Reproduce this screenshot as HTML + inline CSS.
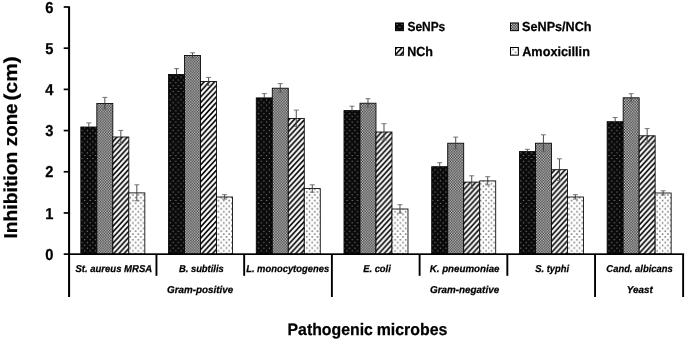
<!DOCTYPE html>
<html><head><meta charset="utf-8"><title>Chart</title>
<style>
html,body{margin:0;padding:0;background:#fff;}
body{width:685px;height:340px;overflow:hidden;font-family:"Liberation Sans",sans-serif;}
svg{display:block;font-family:"Liberation Sans",sans-serif;}
text{fill:#000;stroke:#000;stroke-width:0.25px;text-rendering:geometricPrecision;}
</style></head><body>
<svg width="685" height="340" viewBox="0 0 685 340" style="will-change:transform;transform:translateZ(0);filter:blur(0.35px)">
<defs>
<pattern id="p1" patternUnits="userSpaceOnUse" width="21.400" height="22.400" x="0.5" y="0.3">
<rect width="21.400" height="22.400" fill="#0a0a0a"/>
<path d="M0.84,0.90h1.0v1.0h-1.0zM3.51,3.70h1.0v1.0h-1.0zM0.84,6.50h1.0v1.0h-1.0zM3.51,9.30h1.0v1.0h-1.0zM0.84,12.10h1.0v1.0h-1.0zM3.51,14.90h1.0v1.0h-1.0zM0.84,17.70h1.0v1.0h-1.0zM3.51,20.50h1.0v1.0h-1.0zM6.19,0.90h1.0v1.0h-1.0zM8.86,3.70h1.0v1.0h-1.0zM6.19,6.50h1.0v1.0h-1.0zM8.86,9.30h1.0v1.0h-1.0zM6.19,12.10h1.0v1.0h-1.0zM8.86,14.90h1.0v1.0h-1.0zM6.19,17.70h1.0v1.0h-1.0zM8.86,20.50h1.0v1.0h-1.0zM11.54,0.90h1.0v1.0h-1.0zM14.21,3.70h1.0v1.0h-1.0zM11.54,6.50h1.0v1.0h-1.0zM14.21,9.30h1.0v1.0h-1.0zM11.54,12.10h1.0v1.0h-1.0zM14.21,14.90h1.0v1.0h-1.0zM11.54,17.70h1.0v1.0h-1.0zM14.21,20.50h1.0v1.0h-1.0zM16.89,0.90h1.0v1.0h-1.0zM19.56,3.70h1.0v1.0h-1.0zM16.89,6.50h1.0v1.0h-1.0zM19.56,9.30h1.0v1.0h-1.0zM16.89,12.10h1.0v1.0h-1.0zM19.56,14.90h1.0v1.0h-1.0zM16.89,17.70h1.0v1.0h-1.0zM19.56,20.50h1.0v1.0h-1.0z" fill="#a0a0a0"/>
</pattern>
<pattern id="p2" patternUnits="userSpaceOnUse" width="21.280" height="22.160">
<rect width="21.280" height="22.160" fill="#fff"/>
<path d="M0.00,0.00h1.330v1.385h-1.330zM1.33,1.385h1.330v1.385h-1.330zM0.00,2.77h1.330v1.385h-1.330zM1.33,4.155h1.330v1.385h-1.330zM0.00,5.54h1.330v1.385h-1.330zM1.33,6.925h1.330v1.385h-1.330zM0.00,8.31h1.330v1.385h-1.330zM1.33,9.695h1.330v1.385h-1.330zM0.00,11.08h1.330v1.385h-1.330zM1.33,12.465h1.330v1.385h-1.330zM0.00,13.85h1.330v1.385h-1.330zM1.33,15.235h1.330v1.385h-1.330zM0.00,16.62h1.330v1.385h-1.330zM1.33,18.005h1.330v1.385h-1.330zM0.00,19.39h1.330v1.385h-1.330zM1.33,20.775h1.330v1.385h-1.330zM2.66,0.00h1.330v1.385h-1.330zM3.99,1.385h1.330v1.385h-1.330zM2.66,2.77h1.330v1.385h-1.330zM3.99,4.155h1.330v1.385h-1.330zM2.66,5.54h1.330v1.385h-1.330zM3.99,6.925h1.330v1.385h-1.330zM2.66,8.31h1.330v1.385h-1.330zM3.99,9.695h1.330v1.385h-1.330zM2.66,11.08h1.330v1.385h-1.330zM3.99,12.465h1.330v1.385h-1.330zM2.66,13.85h1.330v1.385h-1.330zM3.99,15.235h1.330v1.385h-1.330zM2.66,16.62h1.330v1.385h-1.330zM3.99,18.005h1.330v1.385h-1.330zM2.66,19.39h1.330v1.385h-1.330zM3.99,20.775h1.330v1.385h-1.330zM5.32,0.00h1.330v1.385h-1.330zM6.65,1.385h1.330v1.385h-1.330zM5.32,2.77h1.330v1.385h-1.330zM6.65,4.155h1.330v1.385h-1.330zM5.32,5.54h1.330v1.385h-1.330zM6.65,6.925h1.330v1.385h-1.330zM5.32,8.31h1.330v1.385h-1.330zM6.65,9.695h1.330v1.385h-1.330zM5.32,11.08h1.330v1.385h-1.330zM6.65,12.465h1.330v1.385h-1.330zM5.32,13.85h1.330v1.385h-1.330zM6.65,15.235h1.330v1.385h-1.330zM5.32,16.62h1.330v1.385h-1.330zM6.65,18.005h1.330v1.385h-1.330zM5.32,19.39h1.330v1.385h-1.330zM6.65,20.775h1.330v1.385h-1.330zM7.98,0.00h1.330v1.385h-1.330zM9.31,1.385h1.330v1.385h-1.330zM7.98,2.77h1.330v1.385h-1.330zM9.31,4.155h1.330v1.385h-1.330zM7.98,5.54h1.330v1.385h-1.330zM9.31,6.925h1.330v1.385h-1.330zM7.98,8.31h1.330v1.385h-1.330zM9.31,9.695h1.330v1.385h-1.330zM7.98,11.08h1.330v1.385h-1.330zM9.31,12.465h1.330v1.385h-1.330zM7.98,13.85h1.330v1.385h-1.330zM9.31,15.235h1.330v1.385h-1.330zM7.98,16.62h1.330v1.385h-1.330zM9.31,18.005h1.330v1.385h-1.330zM7.98,19.39h1.330v1.385h-1.330zM9.31,20.775h1.330v1.385h-1.330zM10.64,0.00h1.330v1.385h-1.330zM11.97,1.385h1.330v1.385h-1.330zM10.64,2.77h1.330v1.385h-1.330zM11.97,4.155h1.330v1.385h-1.330zM10.64,5.54h1.330v1.385h-1.330zM11.97,6.925h1.330v1.385h-1.330zM10.64,8.31h1.330v1.385h-1.330zM11.97,9.695h1.330v1.385h-1.330zM10.64,11.08h1.330v1.385h-1.330zM11.97,12.465h1.330v1.385h-1.330zM10.64,13.85h1.330v1.385h-1.330zM11.97,15.235h1.330v1.385h-1.330zM10.64,16.62h1.330v1.385h-1.330zM11.97,18.005h1.330v1.385h-1.330zM10.64,19.39h1.330v1.385h-1.330zM11.97,20.775h1.330v1.385h-1.330zM13.30,0.00h1.330v1.385h-1.330zM14.63,1.385h1.330v1.385h-1.330zM13.30,2.77h1.330v1.385h-1.330zM14.63,4.155h1.330v1.385h-1.330zM13.30,5.54h1.330v1.385h-1.330zM14.63,6.925h1.330v1.385h-1.330zM13.30,8.31h1.330v1.385h-1.330zM14.63,9.695h1.330v1.385h-1.330zM13.30,11.08h1.330v1.385h-1.330zM14.63,12.465h1.330v1.385h-1.330zM13.30,13.85h1.330v1.385h-1.330zM14.63,15.235h1.330v1.385h-1.330zM13.30,16.62h1.330v1.385h-1.330zM14.63,18.005h1.330v1.385h-1.330zM13.30,19.39h1.330v1.385h-1.330zM14.63,20.775h1.330v1.385h-1.330zM15.96,0.00h1.330v1.385h-1.330zM17.29,1.385h1.330v1.385h-1.330zM15.96,2.77h1.330v1.385h-1.330zM17.29,4.155h1.330v1.385h-1.330zM15.96,5.54h1.330v1.385h-1.330zM17.29,6.925h1.330v1.385h-1.330zM15.96,8.31h1.330v1.385h-1.330zM17.29,9.695h1.330v1.385h-1.330zM15.96,11.08h1.330v1.385h-1.330zM17.29,12.465h1.330v1.385h-1.330zM15.96,13.85h1.330v1.385h-1.330zM17.29,15.235h1.330v1.385h-1.330zM15.96,16.62h1.330v1.385h-1.330zM17.29,18.005h1.330v1.385h-1.330zM15.96,19.39h1.330v1.385h-1.330zM17.29,20.775h1.330v1.385h-1.330zM18.62,0.00h1.330v1.385h-1.330zM19.95,1.385h1.330v1.385h-1.330zM18.62,2.77h1.330v1.385h-1.330zM19.95,4.155h1.330v1.385h-1.330zM18.62,5.54h1.330v1.385h-1.330zM19.95,6.925h1.330v1.385h-1.330zM18.62,8.31h1.330v1.385h-1.330zM19.95,9.695h1.330v1.385h-1.330zM18.62,11.08h1.330v1.385h-1.330zM19.95,12.465h1.330v1.385h-1.330zM18.62,13.85h1.330v1.385h-1.330zM19.95,15.235h1.330v1.385h-1.330zM18.62,16.62h1.330v1.385h-1.330zM19.95,18.005h1.330v1.385h-1.330zM18.62,19.39h1.330v1.385h-1.330zM19.95,20.775h1.330v1.385h-1.330z" fill="#000"/>
</pattern>
<pattern id="p3" patternUnits="userSpaceOnUse" width="20.800" height="22.600">
<rect width="20.800" height="22.600" fill="#fff"/>
<path d="M-5.20,4.24L26.00,-29.66M-5.20,9.89L26.00,-24.01M-5.20,15.54L26.00,-18.36M-5.20,21.19L26.00,-12.71M-5.20,26.84L26.00,-7.06M-5.20,32.49L26.00,-1.41M-5.20,38.14L26.00,4.24M-5.20,43.79L26.00,9.89M-5.20,49.44L26.00,15.54M-5.20,55.09L26.00,21.19" stroke="#000" stroke-width="1.62" fill="none"/>
</pattern>
<pattern id="p4" patternUnits="userSpaceOnUse" width="21.400" height="22.400" x="0.5" y="0.3">
<rect width="21.400" height="22.400" fill="#fff"/>
<path d="M0.64,0.55h1.4v1.7h-1.4zM3.31,3.35h1.4v1.7h-1.4zM0.64,6.15h1.4v1.7h-1.4zM3.31,8.95h1.4v1.7h-1.4zM0.64,11.75h1.4v1.7h-1.4zM3.31,14.55h1.4v1.7h-1.4zM0.64,17.35h1.4v1.7h-1.4zM3.31,20.15h1.4v1.7h-1.4zM5.99,0.55h1.4v1.7h-1.4zM8.66,3.35h1.4v1.7h-1.4zM5.99,6.15h1.4v1.7h-1.4zM8.66,8.95h1.4v1.7h-1.4zM5.99,11.75h1.4v1.7h-1.4zM8.66,14.55h1.4v1.7h-1.4zM5.99,17.35h1.4v1.7h-1.4zM8.66,20.15h1.4v1.7h-1.4zM11.34,0.55h1.4v1.7h-1.4zM14.01,3.35h1.4v1.7h-1.4zM11.34,6.15h1.4v1.7h-1.4zM14.01,8.95h1.4v1.7h-1.4zM11.34,11.75h1.4v1.7h-1.4zM14.01,14.55h1.4v1.7h-1.4zM11.34,17.35h1.4v1.7h-1.4zM14.01,20.15h1.4v1.7h-1.4zM16.69,0.55h1.4v1.7h-1.4zM19.36,3.35h1.4v1.7h-1.4zM16.69,6.15h1.4v1.7h-1.4zM19.36,8.95h1.4v1.7h-1.4zM16.69,11.75h1.4v1.7h-1.4zM19.36,14.55h1.4v1.7h-1.4zM16.69,17.35h1.4v1.7h-1.4zM19.36,20.15h1.4v1.7h-1.4z" fill="#747474"/>
</pattern>
<pattern id="p5" patternUnits="userSpaceOnUse" width="21.400" height="22.400" x="511.66" y="48.1">
<rect width="21.400" height="22.400" fill="#fff"/>
<path d="M0.64,0.55h1.4v1.7h-1.4zM3.31,3.35h1.4v1.7h-1.4zM0.64,6.15h1.4v1.7h-1.4zM3.31,8.95h1.4v1.7h-1.4zM0.64,11.75h1.4v1.7h-1.4zM3.31,14.55h1.4v1.7h-1.4zM0.64,17.35h1.4v1.7h-1.4zM3.31,20.15h1.4v1.7h-1.4zM5.99,0.55h1.4v1.7h-1.4zM8.66,3.35h1.4v1.7h-1.4zM5.99,6.15h1.4v1.7h-1.4zM8.66,8.95h1.4v1.7h-1.4zM5.99,11.75h1.4v1.7h-1.4zM8.66,14.55h1.4v1.7h-1.4zM5.99,17.35h1.4v1.7h-1.4zM8.66,20.15h1.4v1.7h-1.4zM11.34,0.55h1.4v1.7h-1.4zM14.01,3.35h1.4v1.7h-1.4zM11.34,6.15h1.4v1.7h-1.4zM14.01,8.95h1.4v1.7h-1.4zM11.34,11.75h1.4v1.7h-1.4zM14.01,14.55h1.4v1.7h-1.4zM11.34,17.35h1.4v1.7h-1.4zM14.01,20.15h1.4v1.7h-1.4zM16.69,0.55h1.4v1.7h-1.4zM19.36,3.35h1.4v1.7h-1.4zM16.69,6.15h1.4v1.7h-1.4zM19.36,8.95h1.4v1.7h-1.4zM16.69,11.75h1.4v1.7h-1.4zM19.36,14.55h1.4v1.7h-1.4zM16.69,17.35h1.4v1.7h-1.4zM19.36,20.15h1.4v1.7h-1.4z" fill="#747474"/>
</pattern>
<pattern id="p6" patternUnits="userSpaceOnUse" width="21.400" height="22.400" x="395.66" y="23.1">
<rect width="21.400" height="22.400" fill="#0a0a0a"/>
<path d="M0.84,0.90h1.0v1.0h-1.0zM3.51,3.70h1.0v1.0h-1.0zM0.84,6.50h1.0v1.0h-1.0zM3.51,9.30h1.0v1.0h-1.0zM0.84,12.10h1.0v1.0h-1.0zM3.51,14.90h1.0v1.0h-1.0zM0.84,17.70h1.0v1.0h-1.0zM3.51,20.50h1.0v1.0h-1.0zM6.19,0.90h1.0v1.0h-1.0zM8.86,3.70h1.0v1.0h-1.0zM6.19,6.50h1.0v1.0h-1.0zM8.86,9.30h1.0v1.0h-1.0zM6.19,12.10h1.0v1.0h-1.0zM8.86,14.90h1.0v1.0h-1.0zM6.19,17.70h1.0v1.0h-1.0zM8.86,20.50h1.0v1.0h-1.0zM11.54,0.90h1.0v1.0h-1.0zM14.21,3.70h1.0v1.0h-1.0zM11.54,6.50h1.0v1.0h-1.0zM14.21,9.30h1.0v1.0h-1.0zM11.54,12.10h1.0v1.0h-1.0zM14.21,14.90h1.0v1.0h-1.0zM11.54,17.70h1.0v1.0h-1.0zM14.21,20.50h1.0v1.0h-1.0zM16.89,0.90h1.0v1.0h-1.0zM19.56,3.70h1.0v1.0h-1.0zM16.89,6.50h1.0v1.0h-1.0zM19.56,9.30h1.0v1.0h-1.0zM16.89,12.10h1.0v1.0h-1.0zM19.56,14.90h1.0v1.0h-1.0zM16.89,17.70h1.0v1.0h-1.0zM19.56,20.50h1.0v1.0h-1.0z" fill="#a0a0a0"/>
</pattern>

</defs>
<rect width="685" height="340" fill="#fff"/>

<rect x="80.83" y="127.00" width="16.00" height="127.15" fill="url(#p1)" stroke="#000" stroke-width="0.85"/>
<rect x="96.83" y="103.50" width="16.00" height="150.65" fill="url(#p2)" stroke="#000" stroke-width="0.85"/>
<rect x="112.83" y="137.00" width="16.00" height="117.15" fill="url(#p3)" stroke="#000" stroke-width="0.85"/>
<rect x="128.83" y="192.90" width="16.00" height="61.25" fill="url(#p4)" stroke="#000" stroke-width="0.85"/>
<rect x="168.55" y="74.50" width="16.00" height="179.65" fill="url(#p1)" stroke="#000" stroke-width="0.85"/>
<rect x="184.55" y="55.50" width="16.00" height="198.65" fill="url(#p2)" stroke="#000" stroke-width="0.85"/>
<rect x="200.55" y="81.50" width="16.00" height="172.65" fill="url(#p3)" stroke="#000" stroke-width="0.85"/>
<rect x="216.55" y="197.00" width="16.00" height="57.15" fill="url(#p4)" stroke="#000" stroke-width="0.85"/>
<rect x="256.27" y="97.90" width="16.00" height="156.25" fill="url(#p1)" stroke="#000" stroke-width="0.85"/>
<rect x="272.27" y="88.20" width="16.00" height="165.95" fill="url(#p2)" stroke="#000" stroke-width="0.85"/>
<rect x="288.27" y="118.40" width="16.00" height="135.75" fill="url(#p3)" stroke="#000" stroke-width="0.85"/>
<rect x="304.27" y="188.60" width="16.00" height="65.55" fill="url(#p4)" stroke="#000" stroke-width="0.85"/>
<rect x="343.99" y="110.60" width="16.00" height="143.55" fill="url(#p1)" stroke="#000" stroke-width="0.85"/>
<rect x="359.99" y="103.20" width="16.00" height="150.95" fill="url(#p2)" stroke="#000" stroke-width="0.85"/>
<rect x="375.99" y="132.00" width="16.00" height="122.15" fill="url(#p3)" stroke="#000" stroke-width="0.85"/>
<rect x="391.99" y="209.00" width="16.00" height="45.15" fill="url(#p4)" stroke="#000" stroke-width="0.85"/>
<rect x="431.71" y="166.70" width="16.00" height="87.45" fill="url(#p1)" stroke="#000" stroke-width="0.85"/>
<rect x="447.71" y="143.20" width="16.00" height="110.95" fill="url(#p2)" stroke="#000" stroke-width="0.85"/>
<rect x="463.71" y="182.10" width="16.00" height="72.05" fill="url(#p3)" stroke="#000" stroke-width="0.85"/>
<rect x="479.71" y="180.90" width="16.00" height="73.25" fill="url(#p4)" stroke="#000" stroke-width="0.85"/>
<rect x="519.43" y="151.60" width="16.00" height="102.55" fill="url(#p1)" stroke="#000" stroke-width="0.85"/>
<rect x="535.43" y="143.20" width="16.00" height="110.95" fill="url(#p2)" stroke="#000" stroke-width="0.85"/>
<rect x="551.43" y="169.70" width="16.00" height="84.45" fill="url(#p3)" stroke="#000" stroke-width="0.85"/>
<rect x="567.43" y="197.00" width="16.00" height="57.15" fill="url(#p4)" stroke="#000" stroke-width="0.85"/>
<rect x="607.15" y="121.70" width="16.00" height="132.45" fill="url(#p1)" stroke="#000" stroke-width="0.85"/>
<rect x="623.15" y="97.80" width="16.00" height="156.35" fill="url(#p2)" stroke="#000" stroke-width="0.85"/>
<rect x="639.15" y="135.80" width="16.00" height="118.35" fill="url(#p3)" stroke="#000" stroke-width="0.85"/>
<rect x="655.15" y="193.00" width="16.00" height="61.15" fill="url(#p4)" stroke="#000" stroke-width="0.85"/>
<path d="M88.83,122.90 V126.90" stroke="#3a3a3a" stroke-width="0.9" fill="none"/>
<path d="M86.33,122.90 H91.33" stroke="#686868" stroke-width="0.9" fill="none"/>
<path d="M104.83,97.40 V109.40" stroke="#3a3a3a" stroke-width="0.9" fill="none"/>
<path d="M102.33,97.40 H107.33 M102.33,109.40 H107.33" stroke="#686868" stroke-width="0.9" fill="none"/>
<path d="M120.83,130.40 V143.40" stroke="#3a3a3a" stroke-width="0.9" fill="none"/>
<path d="M118.33,130.40 H123.33 M118.33,143.40 H123.33" stroke="#686868" stroke-width="0.9" fill="none"/>
<path d="M136.83,184.80 V200.80" stroke="#3a3a3a" stroke-width="0.9" fill="none"/>
<path d="M134.33,184.80 H139.33 M134.33,200.80 H139.33" stroke="#686868" stroke-width="0.9" fill="none"/>
<path d="M176.55,68.60 V74.40" stroke="#3a3a3a" stroke-width="0.9" fill="none"/>
<path d="M174.05,68.60 H179.05" stroke="#686868" stroke-width="0.9" fill="none"/>
<path d="M192.55,52.80 V58.00" stroke="#3a3a3a" stroke-width="0.9" fill="none"/>
<path d="M190.05,52.80 H195.05 M190.05,58.00 H195.05" stroke="#686868" stroke-width="0.9" fill="none"/>
<path d="M208.55,77.40 V85.40" stroke="#3a3a3a" stroke-width="0.9" fill="none"/>
<path d="M206.05,77.40 H211.05 M206.05,85.40 H211.05" stroke="#686868" stroke-width="0.9" fill="none"/>
<path d="M224.55,194.70 V199.10" stroke="#3a3a3a" stroke-width="0.9" fill="none"/>
<path d="M222.05,194.70 H227.05 M222.05,199.10 H227.05" stroke="#686868" stroke-width="0.9" fill="none"/>
<path d="M264.27,93.60 V97.80" stroke="#3a3a3a" stroke-width="0.9" fill="none"/>
<path d="M261.77,93.60 H266.77" stroke="#686868" stroke-width="0.9" fill="none"/>
<path d="M280.27,83.60 V92.60" stroke="#3a3a3a" stroke-width="0.9" fill="none"/>
<path d="M277.77,83.60 H282.77 M277.77,92.60 H282.77" stroke="#686868" stroke-width="0.9" fill="none"/>
<path d="M296.27,110.10 V126.50" stroke="#3a3a3a" stroke-width="0.9" fill="none"/>
<path d="M293.77,110.10 H298.77 M293.77,126.50 H298.77" stroke="#686868" stroke-width="0.9" fill="none"/>
<path d="M312.27,184.80 V192.20" stroke="#3a3a3a" stroke-width="0.9" fill="none"/>
<path d="M309.77,184.80 H314.77 M309.77,192.20 H314.77" stroke="#686868" stroke-width="0.9" fill="none"/>
<path d="M351.99,106.20 V110.50" stroke="#3a3a3a" stroke-width="0.9" fill="none"/>
<path d="M349.49,106.20 H354.49" stroke="#686868" stroke-width="0.9" fill="none"/>
<path d="M367.99,98.70 V107.50" stroke="#3a3a3a" stroke-width="0.9" fill="none"/>
<path d="M365.49,98.70 H370.49 M365.49,107.50 H370.49" stroke="#686868" stroke-width="0.9" fill="none"/>
<path d="M383.99,123.70 V140.10" stroke="#3a3a3a" stroke-width="0.9" fill="none"/>
<path d="M381.49,123.70 H386.49 M381.49,140.10 H386.49" stroke="#686868" stroke-width="0.9" fill="none"/>
<path d="M399.99,204.70 V213.10" stroke="#3a3a3a" stroke-width="0.9" fill="none"/>
<path d="M397.49,204.70 H402.49 M397.49,213.10 H402.49" stroke="#686868" stroke-width="0.9" fill="none"/>
<path d="M439.71,162.70 V166.60" stroke="#3a3a3a" stroke-width="0.9" fill="none"/>
<path d="M437.21,162.70 H442.21" stroke="#686868" stroke-width="0.9" fill="none"/>
<path d="M455.71,137.10 V149.10" stroke="#3a3a3a" stroke-width="0.9" fill="none"/>
<path d="M453.21,137.10 H458.21 M453.21,149.10 H458.21" stroke="#686868" stroke-width="0.9" fill="none"/>
<path d="M471.71,175.80 V188.20" stroke="#3a3a3a" stroke-width="0.9" fill="none"/>
<path d="M469.21,175.80 H474.21 M469.21,188.20 H474.21" stroke="#686868" stroke-width="0.9" fill="none"/>
<path d="M487.71,176.70 V184.90" stroke="#3a3a3a" stroke-width="0.9" fill="none"/>
<path d="M485.21,176.70 H490.21 M485.21,184.90 H490.21" stroke="#686868" stroke-width="0.9" fill="none"/>
<path d="M527.43,149.30 V151.50" stroke="#3a3a3a" stroke-width="0.9" fill="none"/>
<path d="M524.93,149.30 H529.93" stroke="#686868" stroke-width="0.9" fill="none"/>
<path d="M543.43,134.80 V151.40" stroke="#3a3a3a" stroke-width="0.9" fill="none"/>
<path d="M540.93,134.80 H545.93 M540.93,151.40 H545.93" stroke="#686868" stroke-width="0.9" fill="none"/>
<path d="M559.43,158.80 V180.40" stroke="#3a3a3a" stroke-width="0.9" fill="none"/>
<path d="M556.93,158.80 H561.93 M556.93,180.40 H561.93" stroke="#686868" stroke-width="0.9" fill="none"/>
<path d="M575.43,194.70 V199.10" stroke="#3a3a3a" stroke-width="0.9" fill="none"/>
<path d="M572.93,194.70 H577.93 M572.93,199.10 H577.93" stroke="#686868" stroke-width="0.9" fill="none"/>
<path d="M615.15,117.50 V121.60" stroke="#3a3a3a" stroke-width="0.9" fill="none"/>
<path d="M612.65,117.50 H617.65" stroke="#686868" stroke-width="0.9" fill="none"/>
<path d="M631.15,93.70 V101.70" stroke="#3a3a3a" stroke-width="0.9" fill="none"/>
<path d="M628.65,93.70 H633.65 M628.65,101.70 H633.65" stroke="#686868" stroke-width="0.9" fill="none"/>
<path d="M647.15,128.60 V142.80" stroke="#3a3a3a" stroke-width="0.9" fill="none"/>
<path d="M644.65,128.60 H649.65 M644.65,142.80 H649.65" stroke="#686868" stroke-width="0.9" fill="none"/>
<path d="M663.15,190.80 V195.00" stroke="#3a3a3a" stroke-width="0.9" fill="none"/>
<path d="M660.65,190.80 H665.65 M660.65,195.00 H665.65" stroke="#686868" stroke-width="0.9" fill="none"/>
<rect x="68.06" y="6.3" width="2.04" height="290.7" fill="#000"/>
<rect x="63.7" y="253.30" width="620.40" height="1.7" fill="#000"/>
<rect x="63.7" y="212.11" width="5" height="1.7" fill="#000"/>
<rect x="63.7" y="170.92" width="5" height="1.7" fill="#000"/>
<rect x="63.7" y="129.72" width="5" height="1.7" fill="#000"/>
<rect x="63.7" y="88.53" width="5" height="1.7" fill="#000"/>
<rect x="63.7" y="47.34" width="5" height="1.7" fill="#000"/>
<rect x="63.7" y="6.15" width="5" height="1.7" fill="#000"/>
<rect x="155.50" y="254.15" width="1.9" height="21.65" fill="#000"/>
<rect x="243.22" y="254.15" width="1.9" height="21.65" fill="#000"/>
<rect x="330.94" y="254.15" width="1.9" height="42.85" fill="#000"/>
<rect x="418.66" y="254.15" width="1.9" height="21.65" fill="#000"/>
<rect x="506.38" y="254.15" width="1.9" height="21.65" fill="#000"/>
<rect x="594.10" y="254.15" width="1.9" height="42.85" fill="#000"/>
<rect x="682.17" y="254.15" width="1.9" height="42.85" fill="#000"/>
<rect x="395.5" y="22.95" width="7.9" height="7.7" fill="url(#p6)" stroke="#000" stroke-width="1"/>
<rect x="395.5" y="47.5" width="7.9" height="7.7" fill="url(#p3)" stroke="#000" stroke-width="1"/>
<rect x="510.5" y="22.95" width="7.9" height="7.7" fill="url(#p2)" stroke="#000" stroke-width="1"/>
<rect x="510.5" y="47.5" width="7.9" height="7.7" fill="url(#p5)" stroke="#000" stroke-width="1"/>
<text transform="translate(45.20,259.75) scale(0.9300,1)" font-size="15.8" font-weight="bold">0</text>
<text transform="translate(45.20,218.56) scale(0.9300,1)" font-size="15.8" font-weight="bold">1</text>
<text transform="translate(45.20,177.37) scale(0.9300,1)" font-size="15.8" font-weight="bold">2</text>
<text transform="translate(45.20,136.17) scale(0.9300,1)" font-size="15.8" font-weight="bold">3</text>
<text transform="translate(45.20,94.98) scale(0.9300,1)" font-size="15.8" font-weight="bold">4</text>
<text transform="translate(45.20,53.79) scale(0.9300,1)" font-size="15.8" font-weight="bold">5</text>
<text transform="translate(45.20,12.60) scale(0.9300,1)" font-size="15.8" font-weight="bold">6</text>
<text transform="translate(17.2,237.4) rotate(-90) translate(-1.21,0) scale(1.0335,1)" font-size="18.7" font-weight="bold">Inhibition</text>
<text transform="translate(17.2,237.4) rotate(-90) translate(91.21,0) scale(1.0037,1)" font-size="18.7" font-weight="bold">zone</text>
<text transform="translate(17.2,237.4) rotate(-90) translate(137.02,0) scale(1.1152,1)" font-size="18.7" font-weight="bold">(cm)</text>
<text transform="translate(287.51,334.70) scale(0.9544,1)" font-size="16.6" font-weight="bold">Pathogenic</text>
<text transform="translate(376.71,334.70) scale(0.9570,1)" font-size="16.6" font-weight="bold">microbes</text>
<text transform="translate(75.40,271.80) scale(0.9523,1)" font-size="10.0" font-weight="bold" font-style="italic">St. aureus MRSA</text>
<text transform="translate(178.95,271.80) scale(0.9371,1)" font-size="10.0" font-weight="bold" font-style="italic">B. subtilis</text>
<text transform="translate(246.15,271.80) scale(0.9393,1)" font-size="10.0" font-weight="bold" font-style="italic">L. monocytogenes</text>
<text transform="translate(363.15,271.80) scale(0.9394,1)" font-size="10.0" font-weight="bold" font-style="italic">E. coli</text>
<text transform="translate(429.75,271.80) scale(0.9724,1)" font-size="10.0" font-weight="bold" font-style="italic">K. pneumoniae</text>
<text transform="translate(535.20,271.80) scale(0.9393,1)" font-size="10.0" font-weight="bold" font-style="italic">S. typhi</text>
<text transform="translate(606.36,271.80) scale(0.9405,1)" font-size="10.0" font-weight="bold" font-style="italic">Cand. albicans</text>
<text transform="translate(167.04,293.30) scale(0.9846,1)" font-size="10.0" font-weight="bold" font-style="italic">Gram-positive</text>
<text transform="translate(429.94,293.30) scale(0.9884,1)" font-size="10.0" font-weight="bold" font-style="italic">Gram-negative</text>
<text transform="translate(626.83,293.30) scale(0.9826,1)" font-size="10.0" font-weight="bold" font-style="italic">Yeast</text>
<text transform="translate(407.41,31.20) scale(0.9124,1)" font-size="13.1" font-weight="bold">SeNPs</text>
<text transform="translate(407.22,56.00) scale(0.9580,1)" font-size="13.1" font-weight="bold">NCh</text>
<text transform="translate(522.10,31.10) scale(0.9645,1)" font-size="13.1" font-weight="bold">SeNPs/NCh</text>
<text transform="translate(522.20,56.00) scale(0.9690,1)" font-size="13.1" font-weight="bold">Amoxicillin</text>
</svg></body></html>
